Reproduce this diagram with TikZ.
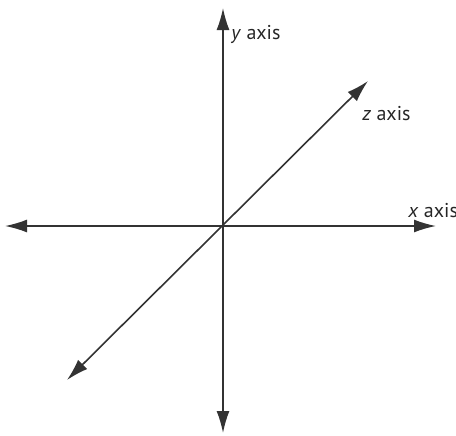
\documentclass[tikz,border=0pt]{standalone}
\usepackage{fontspec}
\setmainfont{PT Sans}
\usetikzlibrary{arrows.meta,positioning}

\begin{document}
\begin{tikzpicture}[
x=0.5pt, y=-0.5pt,
axis/.style={{Latex[length=11pt,width=6.5pt]}-{Latex[length=11pt,width=6.5pt]}, line width=0.8pt, black!80},
lbl/.style={anchor=base west, inner sep=0pt, font=\fontsize{10}{12}\selectfont, black!85}
]
\useasboundingbox (0,0) rectangle (456,435);
\coordinate (o) at (223,226);
\coordinate (xl) at (5,226);
\coordinate (xr) at (436,226);
\coordinate (yt) at (223,8);
\coordinate (yb) at (223,433);
\coordinate (zt) at (368,81);
\coordinate (zb) at (67,380);

\draw[axis] (xl) -- (xr);
\draw[axis] (yb) -- (yt);
\draw[axis] (zb) -- (zt);

\node[lbl] (ylab) at (231,39) {\textit{y} axis};
\node[lbl] (zlab) at (362,120) {\textit{z} axis};
\node[lbl] (xlab) at (408,217) {\textit{x} axis};
\end{tikzpicture}
\end{document}
